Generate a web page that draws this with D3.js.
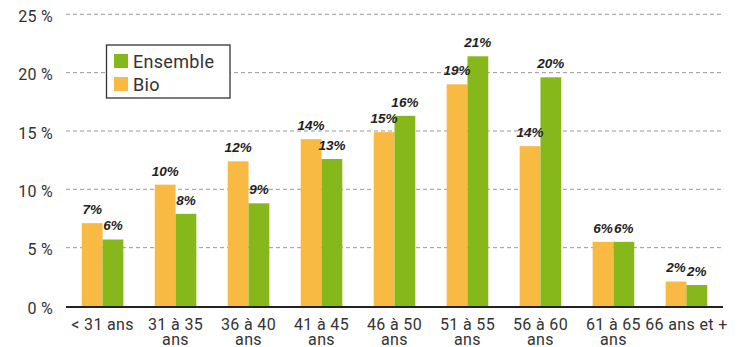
<!DOCTYPE html>
<html>
<head>
<meta charset="utf-8">
<script src="https://cdn.jsdelivr.net/npm/d3@7"></script>
<style>
  html, body { margin: 0; padding: 0; background: #fff; }
  svg { display: block; }
</style>
</head>
<body>
<svg id="chart" width="747" height="347"></svg>
<script>
// Age groups (two-line labels split on "|")
const categories = ["< 31 ans", "31 à 35|ans", "36 à 40|ans", "41 à 45|ans", "46 à 50|ans",
                    "51 à 55|ans", "56 à 60|ans", "61 à 65|ans", "66 ans et +"];
// Share of farm managers per age group, in %
const bioValues      = [7.1, 10.4, 12.4, 14.3, 14.9, 19.0, 13.7, 5.5, 2.1];
const ensembleValues = [5.7, 7.9, 8.8, 12.6, 16.3, 21.4, 19.6, 5.5, 1.8];
const seriesKeys   = ["bio", "ensemble"];
const seriesNames  = { bio: "Bio", ensemble: "Ensemble" };
const seriesColors = { bio: "#F9BA44", ensemble: "#86B81B" };
const yTicks = [0, 5, 10, 15, 20, 25];

const rows = categories.map((c, i) => ({ cat: c, bio: bioValues[i], ensemble: ensembleValues[i] }));

const svg = d3.select("#chart");
const plotLeft = 66, plotRight = 723, plotTop = 14.3, plotBottom = 306;

const x0 = d3.scaleBand().domain(categories).range([plotLeft, plotRight])
  .paddingInner(0.43).paddingOuter(0.216);
const x1 = d3.scaleBand().domain(seriesKeys).range([0, x0.bandwidth()]);
const y = d3.scaleLinear().domain([0, 25]).range([plotBottom, plotTop]);

const axisFont = "Roboto, 'DejaVu Sans', sans-serif";

// Dashed horizontal gridlines
svg.append("g").selectAll("line")
  .data(yTicks.filter(t => t > 0))
  .join("line")
  .attr("x1", plotLeft).attr("x2", plotRight)
  .attr("y1", d => y(d)).attr("y2", d => y(d))
  .attr("stroke", "#9a9a9a").attr("stroke-width", 1)
  .attr("stroke-dasharray", "4,3");

// Y axis tick labels
const yAxis = svg.append("g").attr("transform", `translate(${plotLeft},0)`)
  .call(d3.axisLeft(y).tickValues(yTicks).tickSize(0).tickPadding(13)
    .tickFormat(d => d + " %"));
yAxis.select(".domain").remove();
yAxis.selectAll("text")
  .attr("font-family", axisFont).attr("font-size", 16)
  .attr("letter-spacing", 0.3)
  .attr("fill", "#333").attr("dy", "0.45em");

// Bars
const groups = svg.append("g").selectAll("g")
  .data(rows).join("g")
  .attr("transform", d => `translate(${x0(d.cat)},0)`);

groups.selectAll("rect")
  .data(d => seriesKeys.map(k => ({ key: k, value: d[k] })))
  .join("rect")
  .attr("x", d => x1(d.key))
  .attr("width", x1.bandwidth())
  .attr("y", d => y(d.value))
  .attr("height", d => y(0) - y(d.value))
  .attr("fill", d => seriesColors[d.key]);

// Value labels, rounded from the bar values
groups.selectAll("text")
  .data(d => seriesKeys.map(k => ({ key: k, value: d[k] })))
  .join("text")
  .attr("x", d => x1(d.key) + x1.bandwidth() / 2)
  .attr("y", d => y(d.value) - 9)
  .attr("text-anchor", "middle")
  .attr("font-family", "'Liberation Sans', Arial, sans-serif")
  .attr("font-weight", "bold").attr("font-style", "italic")
  .attr("font-size", 13.5).attr("fill", "#222")
  .text(d => d3.format(".0f")(d.value) + "%");

// X axis baseline
svg.append("line")
  .attr("x1", plotLeft).attr("x2", plotRight)
  .attr("y1", plotBottom + 1).attr("y2", plotBottom + 1)
  .attr("stroke", "#222").attr("stroke-width", 2);

// Category labels
const xLabels = svg.append("g").selectAll("text")
  .data(categories).join("text")
  .attr("x", d => x0(d) + x0.bandwidth() / 2)
  .attr("y", 330)
  .attr("text-anchor", "middle")
  .attr("font-family", axisFont).attr("font-size", 16)
  .attr("letter-spacing", 0.35)
  .attr("fill", "#333");
xLabels.selectAll("tspan")
  .data(d => d.split("|"))
  .join("tspan")
  .attr("x", function () { return d3.select(this.parentNode).attr("x"); })
  .attr("dy", (d, i) => i === 0 ? 0 : 15)
  .text(d => d);

// Legend
const legend = svg.append("g").attr("transform", "translate(106.5,45)");
legend.append("rect")
  .attr("width", 123.5).attr("height", 53)
  .attr("fill", "#fff").attr("stroke", "#333").attr("stroke-width", 1.3);
const legendOrder = ["ensemble", "bio"];
const items = legend.selectAll("g.item").data(legendOrder).join("g")
  .attr("class", "item")
  .attr("transform", (d, i) => `translate(7.5,${9 + i * 23})`);
items.append("rect").attr("width", 14).attr("height", 14)
  .attr("fill", d => seriesColors[d]);
items.append("text").attr("x", 19).attr("y", 13.5)
  .attr("font-family", axisFont).attr("font-size", 18).attr("fill", "#333")
  .attr("letter-spacing", 0.3)
  .text(d => seriesNames[d]);
</script>
</body>
</html>
